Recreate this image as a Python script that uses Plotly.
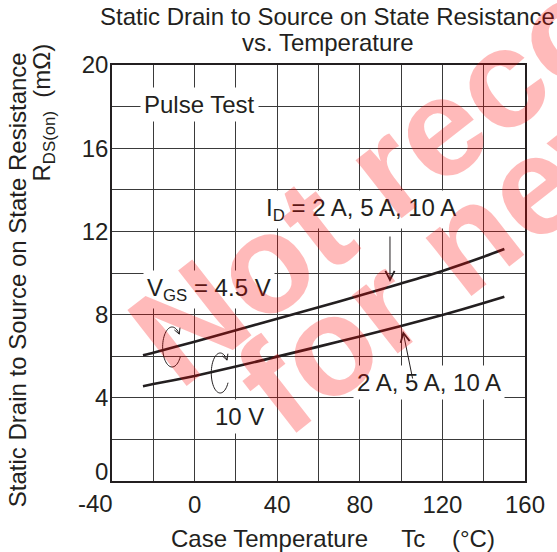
import math
import plotly.graph_objects as go

# ---------------- data ----------------
temperature = [-25, -20, 0, 20, 40, 60, 80, 100, 120, 140, 150]
rds_vgs_4v5 = [6.05, 6.17, 6.70, 7.25, 7.80, 8.35, 8.92, 9.50, 10.10, 10.78, 11.15]
rds_vgs_10v = [4.56, 4.66, 5.05, 5.50, 5.98, 6.46, 6.95, 7.45, 7.98, 8.56, 8.86]

x_tick_vals = [-40, -20, 0, 20, 40, 60, 80, 100, 120, 140, 160]
x_tick_text = ["-40", "", "0", "", "40", "", "80", "", "120", "", "160"]
y_tick_vals = [0, 2, 4, 6, 8, 10, 12, 14, 16, 18, 20]
y_tick_text = ["0", "", "4", "", "8", "", "12", "", "16", "", "20"]

# ---------------- geometry helpers ----------------
FIG_W, FIG_H = 557, 552
M_L, M_R, M_T, M_B = 112, 29, 65, 71
PW, PH = FIG_W - M_L - M_R, FIG_H - M_T - M_B
X0, X1, Y0, Y1 = -40, 160, 0, 20
FONT = "Liberation Sans, Arial, Helvetica, sans-serif"
INK = "#231f20"


def px2data(px, py):
    return (X0 + (px - M_L) / PW * (X1 - X0), Y1 - (py - M_T) / PH * (Y1 - Y0))


def px2paper(px, py):
    return ((px - M_L) / PW, (M_T + PH - py) / PH)


def loop_arrow_path(cx, cy, rx, ry, a0=29, a1=320, n=48, head=6.5):
    pts = []
    for i in range(n + 1):
        a = math.radians(a0 + (a1 - a0) * i / n)
        pts.append((cx + rx * math.cos(a), cy + ry * math.sin(a)))
    a = math.radians(a1)
    tx, ty = -rx * math.sin(a), ry * math.cos(a)
    nn = math.hypot(tx, ty)
    ux, uy = -tx / nn, -ty / nn
    tip = pts[-1]
    wings = []
    for s in (1, -1):
        ang = math.radians(28) * s
        wx = ux * math.cos(ang) - uy * math.sin(ang)
        wy = ux * math.sin(ang) + uy * math.cos(ang)
        wings.append((tip[0] + head * wx, tip[1] + head * wy))

    def fmt(p):
        d = px2data(*p)
        return f"{d[0]:.3f},{d[1]:.4f}"

    path = "M" + " L".join(fmt(p) for p in pts)
    path += " M" + fmt(wings[0]) + " L" + fmt(tip) + " L" + fmt(wings[1])
    return path


fig = go.Figure()
fig.add_trace(go.Scatter(x=temperature, y=rds_vgs_4v5, mode="lines",
                         line=dict(color=INK, width=2.6, shape="spline", smoothing=0.6),
                         showlegend=False, hoverinfo="skip"))
fig.add_trace(go.Scatter(x=temperature, y=rds_vgs_10v, mode="lines",
                         line=dict(color=INK, width=2.6, shape="spline", smoothing=0.6),
                         showlegend=False, hoverinfo="skip"))

axis_common = dict(showline=True, mirror=True, linecolor=INK, linewidth=1.5,
                   showgrid=True, gridcolor="#3a3a3a", gridwidth=1,
                   zeroline=False, ticks="", fixedrange=True,
                   tickfont=dict(family=FONT, size=24, color=INK))

# the first labels on each axis are offset in the original; they are drawn as annotations
x_axis_text = [""] + x_tick_text[1:]
y_axis_text = [""] + y_tick_text[1:]

fig.update_layout(
    width=FIG_W, height=FIG_H, autosize=False,
    margin=dict(l=M_L, r=M_R, t=M_T, b=M_B, pad=0),
    paper_bgcolor="white", plot_bgcolor="white",
    xaxis=dict(range=[X0, X1], tickmode="array", tickvals=x_tick_vals,
               ticktext=x_axis_text, ticklabelstandoff=1, **axis_common),
    yaxis=dict(range=[Y0, Y1], tickmode="array", tickvals=y_tick_vals,
               ticktext=y_axis_text, ticklabelstandoff=-3, **axis_common),
    showlegend=False,
)

annos = []


def paper_text(text, px, py, size, angle=0, color=INK, xanchor="center"):
    xp, yp = px2paper(px, py)
    annos.append(dict(text=text, x=xp, y=yp, xref="paper", yref="paper",
                      xanchor=xanchor, yanchor="middle", showarrow=False,
                      textangle=angle,
                      font=dict(family=FONT, size=size, color=color)))


# offset corner tick labels
paper_text(x_tick_text[0], 115, 503, 24, xanchor="right")
paper_text(y_tick_text[0], 110, 471, 24, xanchor="right")

# titles
paper_text("Static Drain to Source on State Resistance", 329, 17, 24)
paper_text("vs. Temperature", 330, 43, 24)
paper_text("Case Temperature\u00a0\u00a0\u00a0\u00a0\u00a0Tc\u00a0\u00a0\u00a0\u00a0(\u00b0C)", 334.5, 538, 24)
paper_text("Static Drain to Source on State Resistance", 16.5, 280, 24, angle=-90)
paper_text("R<sub>DS(on)</sub>\u00a0\u00a0(m\u03a9)", 42, 113, 24, angle=-90)


def data_label(text, px, py, size=24):
    x, y = px2data(px, py)
    annos.append(dict(text=text, x=x, y=y, xref="x", yref="y",
                      xanchor="center", yanchor="middle", showarrow=False,
                      bgcolor="white", borderpad=3,
                      font=dict(family=FONT, size=size, color=INK)))


data_label("Pulse Test", 200, 104)
data_label("I<sub>D</sub> = 2 A, 5 A, 10 A", 363, 209)
data_label("V<sub>GS</sub> = 4.5 V", 209.5, 289)
data_label("2 A, 5 A, 10 A", 431.7, 382)
data_label("10 V", 240, 416)


def arrow(head_px, tail_px):
    hx, hy = px2data(*head_px)
    annos.append(dict(text="", x=hx, y=hy, xref="x", yref="y",
                      ax=tail_px[0] - head_px[0], ay=tail_px[1] - head_px[1],
                      showarrow=True, arrowhead=5, arrowsize=1.8,
                      arrowwidth=1, arrowcolor=INK))


arrow((392, 282), (392, 235))
arrow((405, 331), (415, 380))

fig.add_shape(type="path", xref="x", yref="y",
              path=loop_arrow_path(172.5, 347, 9.5, 20),
              line=dict(color=INK, width=1))
fig.add_shape(type="path", xref="x", yref="y",
              path=loop_arrow_path(221, 373, 9, 20),
              line=dict(color=INK, width=1))

# watermark
WM = "rgba(255,0,0,0.27)"
paper_text("<b>Not recommended</b>", 637, -25, 140, angle=-38, color=WM)
paper_text("<b>for new design</b>", 649, 98, 140, angle=-38, color=WM)

fig.update_layout(annotations=annos)
fig.write_html("out.html", config={"displayModeBar": False},
               post_script="document.body.style.margin='0px';")
